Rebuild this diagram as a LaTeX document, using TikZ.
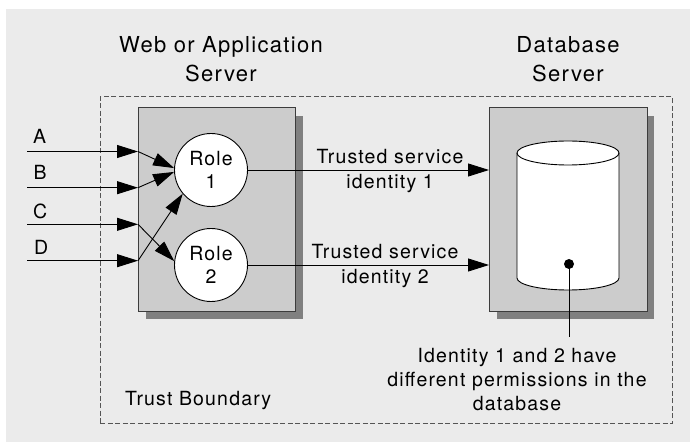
\documentclass[tikz,border=0pt]{standalone}
\usepackage{fontspec}
\setmainfont{TeX Gyre Heros}[LetterSpace=6]
\usetikzlibrary{arrows.meta}
\definecolor{bgc}{RGB}{235,235,235}
\definecolor{boxfill}{RGB}{204,204,204}
\definecolor{shadowc}{RGB}{128,128,128}
\definecolor{boxline}{RGB}{60,60,60}
\definecolor{dashc}{RGB}{85,85,85}
\begin{document}
\begin{tikzpicture}[x=1pt,y=1pt,
  txt/.style={font=\fontsize{19.5}{25}\selectfont, inner sep=0pt, align=center},
  ttl/.style={font=\fontsize{22}{29.4}\selectfont, inner sep=0pt, align=center},
  arr/.style={draw=black, line width=0.9pt, -{Triangle[length=21pt,width=13pt]}},
  server/.style={draw=boxline, line width=0.8pt, fill=boxfill, inner sep=0pt, anchor=south west},
  role/.style={circle, draw=black, line width=0.9pt, fill=white, minimum size=73pt, inner sep=0pt, align=center, font=\fontsize{19.5}{22.6}\selectfont},
  thin/.style={draw=black, line width=0.9pt}]

\useasboundingbox (0,0) rectangle (690,442);
\fill[bgc] (6,0) rectangle (690,433);

% titles
\node[ttl] (t1) at (221,383) {Web or Application\\Server};
\node[ttl] (t2) at (568,383) {Database\\Server};

% trust boundary
\node[draw=dashc, dash pattern=on 5pt off 2.5pt, line width=0.8pt, minimum width=572pt, minimum height=327pt, inner sep=0pt, anchor=south west] (tb) at (100,18) {};
\node[txt, anchor=base west] (tbl) at (125,37) {Trust Boundary};

% server boxes with shadows
\fill[shadowc] (146,123) rectangle (303,326);
\node[server, minimum width=157pt, minimum height=204pt] (web) at (138,130) {};
\fill[shadowc] (497,123) rectangle (654,326);
\node[server, minimum width=158pt, minimum height=204pt] (db) at (489,130) {};

% roles
\node[role] (r1) at (211,272) {Role\\1};
\node[role] (r2) at (211,177) {Role\\2};

% inputs
\coordinate (a0) at (27,290.5);  \coordinate (a1) at (138,290.5);
\coordinate (b0) at (27,254.3);  \coordinate (b1) at (138,254.3);
\coordinate (c0) at (27,217.7);  \coordinate (c1) at (138,217.7);
\coordinate (d0) at (27,181.3);  \coordinate (d1) at (138,181.3);
\draw[arr] (a0) -- (a1);
\draw[arr] (b0) -- (b1);
\draw[arr] (c0) -- (c1);
\draw[arr] (d0) -- (d1);
\draw[arr] (a1) -- (r1.177);
\draw[arr] (b1) -- (r1.183);
\draw[arr] (c1) -- (r2.174);
\draw[arr] (d1) -- (r1.220);
\node[txt, anchor=base west] (la) at (33,298.5) {A};
\node[txt, anchor=base west] (lb) at (33.5,262) {B};
\node[txt, anchor=base west] (lc) at (33,223.5) {C};
\node[txt, anchor=base west] (ld) at (34,187) {D};

% trusted service identities
\draw[arr] (r1.east) -- (db.west |- r1.east);
\draw[arr] (r2.east) -- (db.west |- r2.east);
\node[txt] (l1) at (390,270.6) {Trusted service\\identity 1};
\node[txt] (l2) at (385,175.6) {Trusted service\\identity 2};

% database cylinder
\filldraw[fill=white, draw=black, line width=0.9pt] (517,289) -- (517,164)
  arc[start angle=180, end angle=360, x radius=51, y radius=12] -- (619,289)
  arc[start angle=0, end angle=180, x radius=51, y radius=12] -- cycle;
\draw[thin] (517,289) arc[start angle=180, end angle=360, x radius=51, y radius=12];

% note
\node[txt, font=\fontsize{19.5}{24}\selectfont] (note) at (517,62) {Identity 1 and 2 have\\different permissions in the\\database};
\coordinate (dotend) at (569,105);
\node[circle, fill=black, inner sep=0pt, minimum size=10pt] (dot) at (569,178) {};
\draw[thin] (dot.center) -- (dotend);
\end{tikzpicture}
\end{document}
